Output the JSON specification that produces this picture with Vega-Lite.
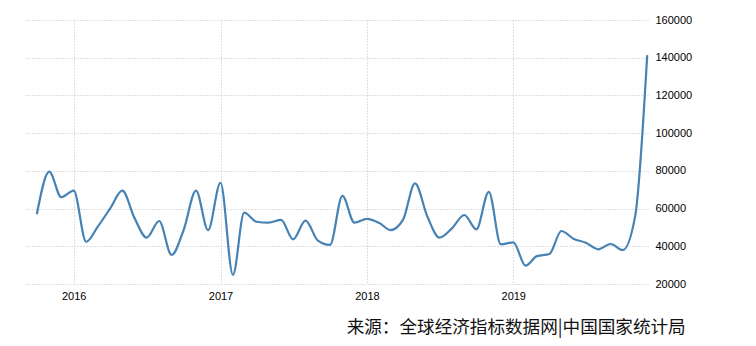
{
  "$schema": "https://vega.github.io/schema/vega-lite/v6.json",
  "width": 622,
  "height": 264,
  "autosize": {"type": "none"},
  "padding": {"left": 26, "top": 20, "right": 108, "bottom": 62},
  "background": "white",
  "title": {
    "text": "来源：全球经济指标数据网|中国国家统计局",
    "orient": "bottom",
    "anchor": "end",
    "dx": -6,
    "offset": 18,
    "font": "Noto Sans CJK SC",
    "fontSize": 17.6,
    "fontWeight": "normal",
    "color": "#111111"
  },
  "config": {
    "view": {"stroke": null},
    "axis": {
      "labelFont": "Liberation Sans",
      "labelFontSize": 11,
      "labelColor": "#000000",
      "gridColor": "#c0c0c0",
      "gridDash": [1, 2],
      "gridWidth": 1,
      "domain": false,
      "ticks": false,
      "title": null
    }
  },
  "data": {
    "values": [
      {"date": "2015-10-01", "value": 57000},
      {"date": "2015-11-01", "value": 79600},
      {"date": "2015-12-01", "value": 66000},
      {"date": "2016-01-01", "value": 69500},
      {"date": "2016-02-01", "value": 42400},
      {"date": "2016-03-01", "value": 50400},
      {"date": "2016-04-01", "value": 60100},
      {"date": "2016-05-01", "value": 69500},
      {"date": "2016-06-01", "value": 54800},
      {"date": "2016-07-01", "value": 44600},
      {"date": "2016-08-01", "value": 53400},
      {"date": "2016-09-01", "value": 35400},
      {"date": "2016-10-01", "value": 48600},
      {"date": "2016-11-01", "value": 69500},
      {"date": "2016-12-01", "value": 48600},
      {"date": "2017-01-01", "value": 73700},
      {"date": "2017-02-01", "value": 24800},
      {"date": "2017-03-01", "value": 57800},
      {"date": "2017-04-01", "value": 53000},
      {"date": "2017-05-01", "value": 52500},
      {"date": "2017-06-01", "value": 54000},
      {"date": "2017-07-01", "value": 43700},
      {"date": "2017-08-01", "value": 53600},
      {"date": "2017-09-01", "value": 43000},
      {"date": "2017-10-01", "value": 40700},
      {"date": "2017-11-01", "value": 66700},
      {"date": "2017-12-01", "value": 52500},
      {"date": "2018-01-01", "value": 54500},
      {"date": "2018-02-01", "value": 52300},
      {"date": "2018-03-01", "value": 48600},
      {"date": "2018-04-01", "value": 54000},
      {"date": "2018-05-01", "value": 73400},
      {"date": "2018-06-01", "value": 55700},
      {"date": "2018-07-01", "value": 44600},
      {"date": "2018-08-01", "value": 49500},
      {"date": "2018-09-01", "value": 56600},
      {"date": "2018-10-01", "value": 49000},
      {"date": "2018-11-01", "value": 68900},
      {"date": "2018-12-01", "value": 41000},
      {"date": "2019-01-01", "value": 42100},
      {"date": "2019-02-01", "value": 29700},
      {"date": "2019-03-01", "value": 34800},
      {"date": "2019-04-01", "value": 35900},
      {"date": "2019-05-01", "value": 48100},
      {"date": "2019-06-01", "value": 43900},
      {"date": "2019-07-01", "value": 41900},
      {"date": "2019-08-01", "value": 38400},
      {"date": "2019-09-01", "value": 41200},
      {"date": "2019-10-01", "value": 38000},
      {"date": "2019-11-01", "value": 56000},
      {"date": "2019-12-01", "value": 141400}
    ]
  },
  "mark": {"type": "line", "interpolate": "monotone", "color": "#4682b4", "strokeWidth": 2.2},
  "encoding": {
    "x": {
      "field": "date",
      "type": "temporal",
      "scale": {
        "type": "utc",
        "domain": [
          {"year": 2015, "month": 9, "date": 4, "utc": true},
          {"year": 2019, "month": 12, "date": 3, "utc": true}
        ]
      },
      "axis": {
        "values": [
          {"year": 2016, "month": 1, "date": 1, "utc": true},
          {"year": 2017, "month": 1, "date": 1, "utc": true},
          {"year": 2018, "month": 1, "date": 1, "utc": true},
          {"year": 2019, "month": 1, "date": 1, "utc": true}
        ],
        "format": "%Y",
        "formatType": "utc",
        "labelPadding": 6,
        "grid": true
      }
    },
    "y": {
      "field": "value",
      "type": "quantitative",
      "scale": {"domain": [20000, 160000], "nice": false, "zero": false},
      "axis": {
        "orient": "right",
        "values": [20000, 40000, 60000, 80000, 100000, 120000, 140000, 160000],
        "format": "d",
        "labelPadding": 7,
        "grid": true
      }
    }
  }
}
